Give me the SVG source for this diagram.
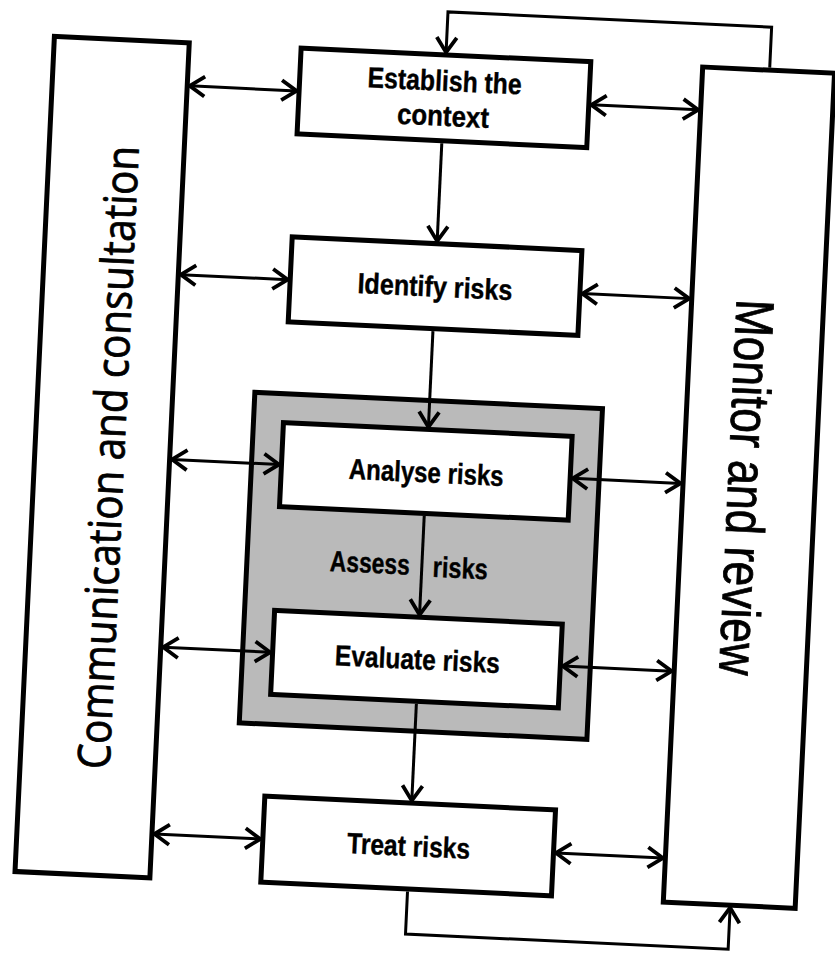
<svg xmlns="http://www.w3.org/2000/svg" width="835" height="956" viewBox="0 0 835 956">
<style>
.box{fill:#fff;stroke:#000;stroke-width:5}
.gray{fill:#bababa;stroke:#000;stroke-width:5}
.lbl{font-family:"Liberation Sans",Arial,sans-serif;font-weight:bold;font-size:29px;fill:#000;stroke:#000;stroke-width:0.4}
.side{font-family:"Open Sans","Liberation Sans",sans-serif;font-size:45px;fill:#000;stroke:#000;stroke-width:0.8}
.side2{font-family:"Liberation Sans",Arial,sans-serif;font-size:54px;fill:#000;stroke:#000;stroke-width:0.8}
.conn{fill:none;stroke:#000;stroke-width:3}
.dbl{marker-start:url(#ah);marker-end:url(#ah)}
.one{marker-end:url(#ah)}
</style>
<defs>
<marker id="ah" viewBox="-20 -13 25 26" markerWidth="25" markerHeight="26" refX="0" refY="0" orient="auto-start-reverse" markerUnits="userSpaceOnUse">
<path d="M-15,-10 L0,0 L-15,10" fill="none" stroke="#000" stroke-width="3.8"/>
</marker>
</defs>
<rect width="835" height="956" fill="#fff"/>
<g transform="rotate(2.7 417 478)">
<g id="communication">
<rect class="box" x="34" y="54" width="135" height="836"/>
<text class="side" transform="translate(101.5,472) rotate(-90)" y="22" text-anchor="middle" textLength="624" lengthAdjust="spacingAndGlyphs">Communication and consultation</text>
</g>
<g id="monitor">
<rect class="box" x="683" y="54" width="132" height="836"/>
<text class="side2" transform="translate(749,472) rotate(90)" y="21" text-anchor="middle" textLength="376" lengthAdjust="spacingAndGlyphs">Monitor and review</text>
</g>
<g id="establish">
<rect class="box" x="281" y="54" width="290" height="86"/>
<text class="lbl" x="426" y="90" text-anchor="middle" textLength="154" lengthAdjust="spacingAndGlyphs">Establish the</text>
<text class="lbl" x="426" y="125" text-anchor="middle" textLength="92" lengthAdjust="spacingAndGlyphs">context</text>
</g>
<g id="identify">
<rect class="box" x="281" y="243" width="290" height="85"/>
<text class="lbl" x="426" y="296" text-anchor="middle" textLength="155" lengthAdjust="spacingAndGlyphs">Identify risks</text>
</g>
<g id="assess">
<rect class="gray" x="251" y="400" width="348" height="331"/>
<text class="lbl" x="414" y="575" text-anchor="end" textLength="80" lengthAdjust="spacingAndGlyphs">Assess</text>
<text class="lbl" x="437" y="576" textLength="55" lengthAdjust="spacingAndGlyphs">risks</text>
</g>
<g id="analyse">
<rect class="box" x="281" y="429" width="289" height="84"/>
<text class="lbl" x="426" y="482" text-anchor="middle" textLength="155" lengthAdjust="spacingAndGlyphs">Analyse risks</text>
</g>
<g id="evaluate">
<rect class="box" x="281" y="617" width="288" height="84"/>
<text class="lbl" x="426" y="669" text-anchor="middle" textLength="165" lengthAdjust="spacingAndGlyphs">Evaluate risks</text>
</g>
<g id="treat">
<rect class="box" x="280" y="803" width="291" height="86"/>
<text class="lbl" x="426" y="856" text-anchor="middle" textLength="123" lengthAdjust="spacingAndGlyphs">Treat risks</text>
</g>
<g id="connectors">
<path class="conn dbl" d="M171.5,97 H278.5"/>
<path class="conn dbl" d="M171.5,286 H278.5"/>
<path class="conn dbl" d="M171.5,471 H278.5"/>
<path class="conn dbl" d="M171.5,659 H278.5"/>
<path class="conn dbl" d="M171.5,846 H277.5"/>
<path class="conn dbl" d="M573.5,97 H680.5"/>
<path class="conn dbl" d="M573.5,286 H680.5"/>
<path class="conn dbl" d="M572.5,471 H680.5"/>
<path class="conn dbl" d="M571.5,659 H680.5"/>
<path class="conn dbl" d="M573.5,846 H680.5"/>
<path class="conn one" d="M426,142.5 V240.5"/>
<path class="conn one" d="M426,330.5 V426.5"/>
<path class="conn one" d="M426,515.5 V614.5"/>
<path class="conn one" d="M427,703.5 V800.5"/>
<path class="conn one" d="M750,51.5 V11 H426 V51.5"/>
<path class="conn one" d="M427,891.5 V934 H750 V892.5"/>
</g>
</g>
</svg>
